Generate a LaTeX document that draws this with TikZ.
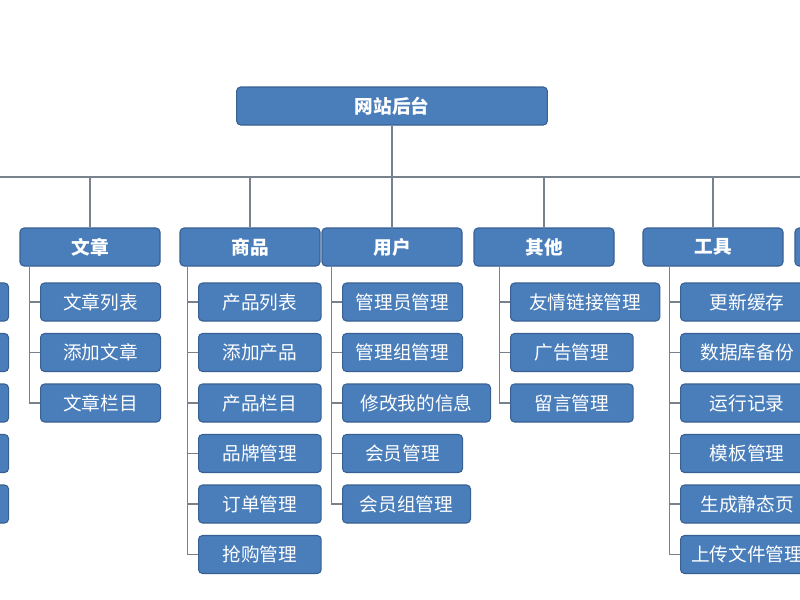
\documentclass[tikz,border=0pt]{standalone}
\usepackage{fontspec}
\setmainfont{Noto Sans CJK SC}
\usetikzlibrary{positioning, calc}

\definecolor{boxblue}{RGB}{74,126,187}
\definecolor{boxedge}{RGB}{56,96,146}
\definecolor{linegray}{RGB}{120,130,140}

\tikzset{
    box/.style={draw=boxedge, fill=boxblue, rounded corners=3pt, text=white,
        line width=0.8pt, minimum height=28.5pt, inner sep=0pt,
        font=\fontsize{14}{16}\selectfont},
    head/.style={box, minimum width=105pt, font=\bfseries\fontsize{14}{16}\selectfont},
    item/.style={box, anchor=west},
    link/.style={draw=linegray, line width=1.2pt}
}

\begin{document}
\begin{tikzpicture}[x=0.75pt, y=-0.75pt]
\useasboundingbox (0,0) rectangle (800,600);
\clip (0,0) rectangle (800,600);

% root and bus
\node[head, minimum width=233pt] (root) at (392,106) {网站后台};
\coordinate (busL) at (0,177);
\coordinate (busR) at (800,177);
\draw[link] (busL) -- (busR);
\draw[link] (root.south) -- (root.south |- busL);

% group headers
\node[head] (wz) at (90,247) {文章};
\node[head] (sp) at (250,247) {商品};
\node[head] (yh) at (392,247) {用户};
\node[head] (qt) at (544,247) {其他};
\node[head] (gj) at (713,247) {工具};
\node[head] (xx) at (865,247) {};
\foreach \h in {wz,sp,yh,qt,gj}
    \draw[link] (\h.north |- busL) -- (\h.north);

% cropped column on the left
\foreach \r in {1,...,5}
    \node[item, minimum width=90pt] (lf\r) at (-112,{302+50.5*(\r-1)}) {};

% children
\foreach \t [count=\r] in {文章列表,添加文章,文章栏目}
    \node[item, minimum width=90pt] (wz\r) at (40,{302+50.5*(\r-1)}) {\t};
\foreach \t [count=\r] in {产品列表,添加产品,产品栏目,品牌管理,订单管理,抢购管理}
    \node[item, minimum width=92pt] (sp\r) at (198,{302+50.5*(\r-1)}) {\t};
\foreach \t/\w [count=\r] in {管理员管理/90,管理组管理/90,修改我的信息/111,会员管理/90,会员组管理/96}
    \node[item, minimum width=\w pt] (yh\r) at (342,{302+50.5*(\r-1)}) {\t};
\foreach \t/\w [count=\r] in {友情链接管理/112,广告管理/92,留言管理/92}
    \node[item, minimum width=\w pt] (qt\r) at (510,{302+50.5*(\r-1)}) {\t};
\foreach \t [count=\r] in {更新缓存,数据库备份,运行记录,模板管理,生成静态页,上传文件管理}
    \node[item, minimum width=100pt] (gj\r) at (680,{302+50.5*(\r-1)}) {\t};

% spines
\draw[link] ($(wz.south west)+(10,0)$) |- (wz3.west);
\foreach \r in {1,2} \draw[link] (wz\r.west) -- +(-10,0);
\draw[link] ($(sp.south west)+(8,0)$) |- (sp6.west);
\foreach \r in {1,...,5} \draw[link] (sp\r.west) -- +(-10,0);
\draw[link] ($(yh.south west)+(10,0)$) |- (yh5.west);
\foreach \r in {1,...,4} \draw[link] (yh\r.west) -- +(-10,0);
\draw[link] ($(qt.south west)+(26,0)$) |- (qt3.west);
\foreach \r in {1,2} \draw[link] (qt\r.west) -- +(-10,0);
\draw[link] ($(gj.south west)+(27,0)$) |- (gj6.west);
\foreach \r in {1,...,5} \draw[link] (gj\r.west) -- +(-10,0);
\end{tikzpicture}
\end{document}
